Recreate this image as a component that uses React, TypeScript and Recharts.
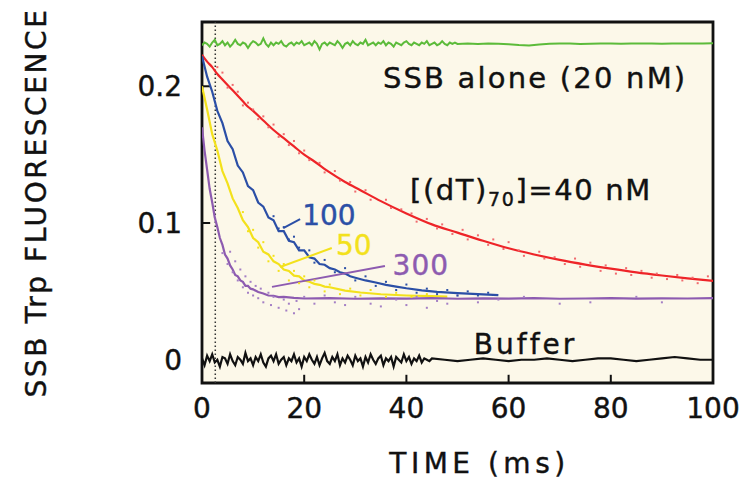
import React from 'react';
import {
  ComposedChart, Line, Scatter, XAxis, YAxis, CartesianGrid,
  ReferenceArea, ReferenceLine, ReferenceDot,
} from 'recharts';

const FONT = '"DejaVu Sans", Verdana, sans-serif';

// ---------- data ----------
const xTicks = [0, 20, 40, 60, 80, 100];
const yTicks = [0, 0.1, 0.2];

// SSB alone (green), noisy trace
const greenTimes = [
  0,0.5,1,1.5,2,2.5,3,3.5,4,4.5,5,5.5,6,6.5,7,7.5,8,8.5,9,9.5,
  10,10.5,11,11.5,12,12.5,13,13.5,14,14.5,15,15.5,16,16.5,17,17.5,18,18.5,19,19.5,
  20,20.5,21,21.5,22,22.5,23,23.5,24,24.5,25,25.5,26,26.5,27,27.5,28,28.5,29,29.5,
  30,30.5,31,31.5,32,32.5,33,33.5,34,34.5,35,35.5,36,36.5,37,37.5,38,38.5,39,39.5,
  40,40.5,41,41.5,42,42.5,43,43.5,44,44.5,45,45.5,46,46.5,47,47.5,48,48.5,49,49.5,
  50,52,54,56,58,60,62,64,66,68,70,72,74,76,78,80,82,84,86,88,90,92,94,96,98,100,
];
const greenValues = [
  0.230,0.232,0.231,0.229,0.232,0.234,0.230,0.231,0.233,0.230,
  0.232,0.229,0.231,0.234,0.231,0.230,0.232,0.231,0.228,0.231,
  0.233,0.232,0.230,0.231,0.235,0.231,0.229,0.232,0.230,0.232,
  0.231,0.233,0.230,0.229,0.231,0.232,0.230,0.232,0.231,0.233,
  0.230,0.231,0.232,0.230,0.233,0.231,0.227,0.231,0.232,0.230,
  0.232,0.231,0.230,0.233,0.231,0.228,0.231,0.232,0.230,0.233,
  0.231,0.230,0.232,0.231,0.234,0.230,0.231,0.232,0.230,0.232,
  0.231,0.233,0.230,0.232,0.231,0.229,0.232,0.231,0.230,0.232,
  0.233,0.231,0.230,0.232,0.231,0.230,0.232,0.231,0.233,0.230,
  0.231,0.232,0.230,0.231,0.233,0.231,0.230,0.232,0.231,0.232,
  0.231,0.2312,0.2310,0.2313,0.2311,0.2308,0.2302,0.2298,0.2306,0.2311,
  0.2313,0.2312,0.2310,0.2311,0.2313,0.2312,0.2311,0.2312,0.2313,0.2312,
  0.2311,0.2312,0.2313,0.2312,0.2313,0.2314,
];

// Buffer (black), noisy trace
const bufferTimes = [
  0,0.5,1,1.5,2,2.5,3,3.5,4,4.5,5,5.5,6,6.5,7,7.5,8,8.5,9,9.5,
  10,10.5,11,11.5,12,12.5,13,13.5,14,14.5,15,15.5,16,16.5,17,17.5,18,18.5,19,19.5,
  20,20.5,21,21.5,22,22.5,23,23.5,24,24.5,25,25.5,26,26.5,27,27.5,28,28.5,29,29.5,
  30,30.5,31,31.5,32,32.5,33,33.5,34,34.5,35,35.5,36,36.5,37,37.5,38,38.5,39,39.5,
  40,40.5,41,41.5,42,42.5,43,43.5,44,44.5,45,
  47.5,50,52.5,55,57.5,60,62.5,65,67.5,70,72.5,75,77.5,80,82.5,85,87.5,90,92.5,95,97.5,100,
];
const bufferValues = [
  0.001,-0.004,0.003,-0.001,0.004,-0.002,0.000,-0.005,0.002,0.001,
  -0.003,0.004,-0.001,-0.004,0.002,0.000,-0.003,0.005,-0.001,0.001,
  -0.004,0.002,-0.001,0.004,-0.002,-0.005,0.001,0.003,-0.001,0.004,
  -0.003,0.000,0.002,-0.004,0.001,-0.001,0.004,-0.002,0.001,-0.005,
  0.002,-0.001,0.004,0.000,-0.003,0.002,-0.004,0.001,0.005,-0.001,
  -0.003,0.002,-0.001,0.004,-0.004,0.001,-0.002,0.003,0.000,-0.004,
  0.003,-0.001,0.001,-0.005,0.002,-0.002,0.004,0.000,-0.003,0.001,
  0.003,-0.004,0.001,-0.001,0.002,-0.005,0.002,0.000,-0.002,0.004,
  -0.001,0.002,-0.003,0.001,-0.001,0.003,-0.002,0.001,0.000,-0.001,
  0.001,
  0.000,-0.001,0.000,0.001,0.000,-0.001,0.000,0.000,0.001,0.000,-0.001,
  0.000,0.001,0.001,0.000,-0.001,0.000,0.001,0.002,0.001,0.000,0.000,
];

// [(dT)70] = 40 nM (red) fitted curve
const redTimes = [0,1,2,3,4,5,6,7,8,9,10,12,14,16,18,20,22,25,28,31,35,40,45,50,55,60,65,70,75,80,85,90,95,100];
const redValues = [
  0.223,0.218,0.214,0.209,0.205,0.201,0.197,0.193,0.189,0.185,0.182,0.175,0.168,0.162,0.156,
  0.150,0.145,0.137,0.130,0.124,0.116,0.107,0.099,0.093,0.087,0.0815,0.077,0.073,0.0696,
  0.0666,0.0639,0.0616,0.0595,0.0577,
];

// 100 nM (blue)
const blueTimes = [0,1,2,3,4,5,6,7,8,9,10,11,12,13,14,15,16,17,18,19,20,21,22,23,24,25,26,27,28,29,30,32,34,36,38,40,43,46,50,54,58];
const blueValues = [
  0.222,0.207,0.196,0.182,0.173,0.160,0.154,0.142,0.137,0.127,0.124,0.115,0.112,0.104,0.102,
  0.094,0.094,0.087,0.086,0.080,0.080,0.075,0.074,0.070,0.0695,0.067,0.066,0.064,0.063,0.061,
  0.060,0.058,0.0565,0.0548,0.0535,0.0523,0.0508,0.0497,0.0487,0.048,0.0472,
];

// 50 nM (yellow)
const yellowTimes = [0,1,2,3,4,5,6,7,8,9,10,11,12,13,14,15,16,17,18,19,20,21,22,23,24,25,28,31,35,40,45,48];
const yellowValues = [
  0.200,0.183,0.165,0.153,0.138,0.129,0.118,0.111,0.102,0.097,0.089,0.086,0.079,0.077,0.072,
  0.070,0.066,0.065,0.0615,0.061,0.058,0.057,0.0555,0.0548,0.0535,0.053,0.0506,0.0492,0.0479,
  0.047,0.0465,0.0462,
];

// 300 nM (purple)
const purpleTimes = [0,0.5,1,1.5,2,2.5,3,3.5,4,4.5,5,5.5,6,6.5,7,7.5,8,8.5,9,9.5,10,11,12,13,14,15,16,18,20,25,30,35,40,45,50,55,60,65,70,75,80,85,90,95,100];
const purpleValues = [
  0.170,0.153,0.139,0.125,0.115,0.104,0.097,0.089,0.084,0.077,0.074,0.069,0.066,0.062,0.061,
  0.058,0.057,0.054,0.054,0.052,0.0515,0.0495,0.0485,0.047,0.0468,0.0458,0.046,0.0452,0.0448,
  0.0450,0.0446,0.0449,0.0447,0.0450,0.0446,0.0449,0.0447,0.0450,0.0446,0.0448,0.0450,0.0447,
  0.0449,0.0448,0.0450,
];

// raw data points
const redDotTimes = [3,4,5,6,7,8,9,10,11,12,13,14,15,16,17,18,19,20,21,23,24,26,27,29,30,32,33,36,37,39,41,42,44,46,47,49,51,52,54,56,57,59,60,62,63,66,67,69,71,73,74,76,78,79,81,83,84,86,88,89,91,93,94,96,97,99];
const redDotValues = [
  0.214,0.210,0.199,0.201,0.196,0.186,0.188,0.183,0.176,0.178,0.170,0.172,0.163,0.165,0.157,
  0.160,0.151,0.153,0.146,0.144,0.137,0.138,0.131,0.130,0.123,0.124,0.117,0.117,0.111,0.110,
  0.107,0.101,0.103,0.096,0.099,0.092,0.095,0.088,0.091,0.084,0.088,0.081,0.086,0.080,0.076,
  0.079,0.074,0.075,0.070,0.074,0.068,0.071,0.065,0.069,0.063,0.067,0.062,0.065,0.060,0.063,
  0.059,0.062,0.058,0.060,0.056,0.061,
];
const purpleDotTimes = [4,5,5.5,6,6.5,7,7.5,8,8.5,9,9.5,10,10.5,11,11.5,12,13,13.5,14,15,16,16.5,17,18,18.5,19,20,22,24,26,28,30,33,35,38,40,42,44,46,48,50,54,58,63,70,76,85,90];
const purpleDotValues = [
  0.078,0.070,0.079,0.064,0.072,0.058,0.066,0.053,0.061,0.049,0.057,0.047,0.054,0.045,0.052,
  0.042,0.049,0.040,0.046,0.038,0.044,0.036,0.041,0.034,0.043,0.037,0.046,0.041,0.047,0.042,
  0.040,0.046,0.041,0.039,0.044,0.040,0.046,0.038,0.043,0.041,0.047,0.042,0.044,0.046,0.041,
  0.042,0.046,0.042,
];
const yellowDotTimes = [8,9,10,11,12,13,14,15,16,17,18,19,20,21,22,24,25,27,29,31,33,36,38,41,44];
const yellowDotValues = [
  0.108,0.094,0.095,0.082,0.086,0.072,0.076,0.065,0.070,0.058,0.065,0.056,0.061,0.053,0.058,
  0.050,0.055,0.048,0.052,0.047,0.051,0.046,0.049,0.046,0.048,
];
const blueDotTimes = [14,15,16,17,18,19,21,22,24,26,28,30,32,34,36,38,40,42,44,46,48,50,52,54,56];
const blueDotValues = [
  0.105,0.096,0.097,0.088,0.090,0.082,0.080,0.071,0.073,0.064,0.067,0.058,0.061,0.054,0.057,
  0.051,0.055,0.049,0.052,0.048,0.051,0.047,0.050,0.047,0.049,
];

const zip = (ts: number[], vs: number[]) => ts.map((t, i) => ({ t, v: vs[i] }));

const green = zip(greenTimes, greenValues);
const buffer = zip(bufferTimes, bufferValues);
const red = zip(redTimes, redValues);
const blue = zip(blueTimes, blueValues);
const yellow = zip(yellowTimes, yellowValues);
const purple = zip(purpleTimes, purpleValues);
const redDots = zip(redDotTimes, redDotValues);
const purpleDots = zip(purpleDotTimes, purpleDotValues);
const yellowDots = zip(yellowDotTimes, yellowDotValues);
const blueDots = zip(blueDotTimes, blueDotValues);

const Y_MIN = -0.017;
const Y_MAX = 0.247;

const C = {
  green: '#5cbb3a',
  red: '#ee2428',
  redDot: '#f06a6e',
  blue: '#2b4fa6',
  yellow: '#f3e11c',
  purple: '#8d5bb0',
  purpleDot: '#a47fc5',
  black: '#111111',
  bg: '#fcf8e9',
};

const dotShape = (color: string) => (props: any) => {
  const { cx, cy } = props;
  if (cx == null || cy == null) return <g />;
  return <rect x={cx - 1} y={cy - 1} width={2} height={2} fill={color} />;
};

const annot = (text: any, color: string, size: number, ls: number) => (props: any) => {
  const vb = props.viewBox || {};
  return (
    <text x={vb.x} y={vb.y} fill={color} fontSize={size} fontFamily={FONT}
      stroke={color} strokeWidth={0.4}
      dominantBaseline="central" letterSpacing={ls}>
      {text}
    </text>
  );
};

const xLabel = (props: any) => {
  const vb = props.viewBox || {};
  return (
    <text x={vb.x + vb.width / 2 + 22} y={vb.y + 80} textAnchor="middle"
      dominantBaseline="central" fontSize={28} fontFamily={FONT} fill={C.black}
      stroke={C.black} strokeWidth={0.4} letterSpacing={4.5}>
      TIME (ms)
    </text>
  );
};

const yLabel = (props: any) => {
  const vb = props.viewBox || {};
  const cx = 36;
  const cy = vb.y + vb.height / 2;
  return (
    <text x={cx} y={cy} textAnchor="middle" dominantBaseline="central"
      transform={`rotate(-90, ${cx}, ${cy})`} fontSize={28} fontFamily={FONT}
      fill={C.black} stroke={C.black} strokeWidth={0.4} letterSpacing={2.6}>
      SSB Trp FLUORESCENCE
    </text>
  );
};

const tickStyle = { fontSize: 28, fill: C.black, fontFamily: FONT, stroke: C.black, strokeWidth: 0.4 };

export default function App() {
  return (
    <div style={{ position: 'absolute', left: 0, top: 0, width: 751, height: 481, background: '#fff' }}>
      <ComposedChart width={751} height={481} margin={{ top: 22, right: 38, bottom: 0, left: 0 }}>
        <CartesianGrid horizontal={false} vertical={false} fill={C.bg} fillOpacity={1} />
        <XAxis dataKey="t" type="number" domain={[0, 100]} ticks={xTicks} allowDataOverflow
          height={98} tickLine={false} axisLine={false} tickSize={0} tickMargin={15}
          tick={tickStyle} interval={0} label={xLabel} />
        <YAxis dataKey="v" type="number" domain={[Y_MIN, Y_MAX]} ticks={yTicks} allowDataOverflow
          width={202} tickLine={false} axisLine={false} tickSize={0} tickMargin={20}
          tick={tickStyle} interval={0} tickFormatter={(v: number) => (v === 0 ? '0' : String(v))}
          label={yLabel} />

        <ReferenceLine x={2.6} stroke="#333" strokeWidth={1.5} strokeDasharray="1.5 2.5" />

        {/* inward tick marks */}
        {[20, 40, 60, 80].map((x) => (
          <ReferenceLine key={'xt' + x} segment={[{ x, y: Y_MIN }, { x, y: Y_MIN + 0.006 }]} stroke={C.black} strokeWidth={2} />
        ))}
        {[0.1, 0.2].map((y) => (
          <ReferenceLine key={'yt' + y} segment={[{ x: 0, y }, { x: 1.6, y }]} stroke={C.black} strokeWidth={2} />
        ))}

        <Scatter data={redDots} dataKey="v" fill={C.redDot} shape={dotShape(C.redDot)} isAnimationActive={false} />
        <Scatter data={purpleDots} dataKey="v" fill={C.purpleDot} shape={dotShape(C.purpleDot)} isAnimationActive={false} />
        <Scatter data={yellowDots} dataKey="v" fill={C.yellow} shape={dotShape(C.yellow)} isAnimationActive={false} />
        <Scatter data={blueDots} dataKey="v" fill={C.blue} shape={dotShape(C.blue)} isAnimationActive={false} />

        <Line data={green} dataKey="v" stroke={C.green} strokeWidth={2} dot={false} type="linear" isAnimationActive={false} />
        <Line data={buffer} dataKey="v" stroke={C.black} strokeWidth={2.2} dot={false} type="linear" isAnimationActive={false} />
        <Line data={red} dataKey="v" stroke={C.red} strokeWidth={2.2} dot={false} type="monotone" isAnimationActive={false} />
        <Line data={blue} dataKey="v" stroke={C.blue} strokeWidth={2.2} dot={false} type="linear" isAnimationActive={false} />
        <Line data={yellow} dataKey="v" stroke={C.yellow} strokeWidth={2.2} dot={false} type="linear" isAnimationActive={false} />
        <Line data={purple} dataKey="v" stroke={C.purple} strokeWidth={2.2} dot={false} type="linear" isAnimationActive={false} />

        {/* leader lines */}
        <ReferenceLine segment={[{ x: 15.9, y: 0.0963 }, { x: 19.2, y: 0.1029 }]} stroke={C.blue} strokeWidth={2} />
        <ReferenceLine segment={[{ x: 15.3, y: 0.0678 }, { x: 25.4, y: 0.0817 }]} stroke={C.yellow} strokeWidth={2} />
        <ReferenceLine segment={[{ x: 13.7, y: 0.0533 }, { x: 35.8, y: 0.0686 }]} stroke={C.purple} strokeWidth={2} />

        {/* annotations */}
        <ReferenceDot x={35.4} y={0.206} r={0} fill="none" stroke="none" label={annot('SSB alone (20 nM)', C.black, 29, 2.2)} />
        <ReferenceDot x={40.7} y={0.124} r={0} fill="none" stroke="none"
          label={annot(<>[(dT)<tspan fontSize={19} dy={9}>70</tspan><tspan dy={-9}>]=40 nM</tspan></>, C.black, 29, 1.6)} />
        <ReferenceDot x={19.6} y={0.1055} r={0} fill="none" stroke="none" label={annot('100', C.blue, 28, 0)} />
        <ReferenceDot x={26.2} y={0.0835} r={0} fill="none" stroke="none" label={annot('50', C.yellow, 28, 0)} />
        <ReferenceDot x={37.3} y={0.0690} r={0} fill="none" stroke="none" label={annot('300', C.purple, 28, 1)} />
        <ReferenceDot x={53.2} y={0.0109} r={0} fill="none" stroke="none" label={annot('Buffer', C.black, 28, 3)} />

        {/* frame */}
        <ReferenceArea x1={0} x2={100} y1={Y_MIN} y2={Y_MAX} fill="none" fillOpacity={0} stroke={C.black} strokeWidth={2.8} />
      </ComposedChart>
    </div>
  );
}
